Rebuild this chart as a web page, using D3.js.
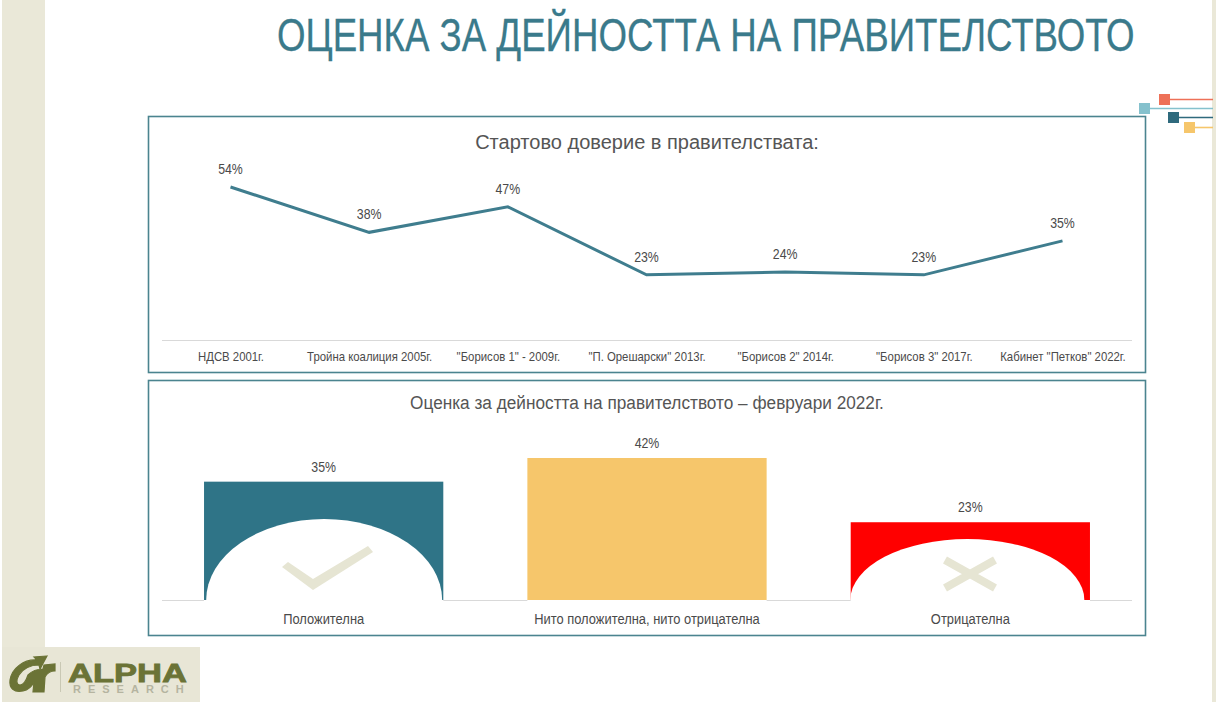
<!DOCTYPE html>
<html>
<head>
<meta charset="utf-8">
<script src="https://d3js.org/d3.v7.min.js"></script>
<style>
  html, body { margin: 0; padding: 0; background: #fff; }
  svg { display: block; }
  text { font-family: "Liberation Sans", Arial, sans-serif; }
</style>
</head>
<body>
<div id="my_dataviz"></div>
<script>

// chart data
var lineCategories = ["НДСВ 2001г.", "Тройна коалиция 2005г.", "\"Борисов 1\" - 2009г.", "\"П. Орешарски\" 2013г.", "\"Борисов 2\" 2014г.", "\"Борисов 3\" 2017г.", "Кабинет \"Петков\" 2022г."];
var lineValues = [54, 38, 47, 23, 24, 23, 35];
var barCategories = ["Положителна", "Нито положителна, нито отрицателна", "Отрицателна"];
var barValues = [35, 42, 23];
var barColors = ["#2f7487", "#f6c66b", "#ff0000"];

var title = "ОЦЕНКА ЗА ДЕЙНОСТТА НА ПРАВИТЕЛСТВОТО";
var lineTitle = "Стартово доверие в правителствата:";
var barTitle = "Оценка за дейността на правителството – февруари 2022г.";

var beige = "#eae8d8", textGrey = "#4a4a4a", panelStroke = "#4b848f", axisGrey = "#d9d9d9";

var svg = d3.select("#my_dataviz").append("svg")
  .attr("width", 1216)
  .attr("height", 702);

// slide background strips
svg.append("rect").attr("x", 2).attr("y", 0).attr("width", 43).attr("height", 648).attr("fill", beige);
svg.append("rect").attr("x", 1212).attr("y", 0).attr("width", 4).attr("height", 702).attr("fill", beige);

// squeeze a text horizontally until it is as wide as the original
function fitText(sel, x, y, width) {
  var natural = sel.node().getComputedTextLength();
  sel.attr("transform", "translate(" + x + "," + y + ") scale(" + (width / natural) + ",1)");
}

// slide title
var titleText = svg.append("text")
  .attr("font-size", 46)
  .attr("fill", "#3a7a8b")
  .attr("stroke", "#3a7a8b").attr("stroke-width", 0.3)
  .text(title);
fitText(titleText, 277, 51, 858);

// little squares at top right
var squares = [
  {x: 1159, y: 94, c: "#ee7158"},
  {x: 1139, y: 103, c: "#85c1cd"},
  {x: 1168, y: 112, c: "#2f6a7d"},
  {x: 1184, y: 122, c: "#f6c66b"}
];
squares.forEach(function(s) {
  svg.append("line").attr("x1", s.x + 5).attr("x2", 1213).attr("y1", s.y + 5.5).attr("y2", s.y + 5.5)
    .attr("stroke", s.c).attr("stroke-width", 1.6);
  svg.append("rect").attr("x", s.x).attr("y", s.y).attr("width", 11).attr("height", 11).attr("fill", s.c);
});

// panels
svg.append("rect").attr("x", 148.5).attr("y", 116.5).attr("width", 997).attr("height", 256)
  .attr("fill", "#fff").attr("stroke", panelStroke).attr("stroke-width", 1.6);
svg.append("rect").attr("x", 148.5).attr("y", 380.5).attr("width", 997).attr("height", 255)
  .attr("fill", "#fff").attr("stroke", panelStroke).attr("stroke-width", 1.6);

// --- line chart
var x1 = d3.scalePoint()
  .domain(lineCategories)
  .range([230.5, 1062.5]);
var y1 = d3.scaleLinear()
  .domain([0, 54])
  .range([340, 187]);

var lineTitleText = svg.append("text")
  .attr("text-anchor", "middle")
  .attr("font-size", 21)
  .attr("fill", "#555")
  .text(lineTitle);
fitText(lineTitleText, 647, 149, 344);

var xAxis1 = svg.append("g")
  .attr("transform", "translate(0,340)")
  .call(d3.axisBottom(x1).tickSize(0).tickPadding(12.5));
xAxis1.select(".domain").remove();
xAxis1.selectAll("text")
  .attr("font-size", 12.5)
  .attr("fill", textGrey)
  .attr("transform", "scale(0.91,1)")
  .style("font-family", "Liberation Sans");
svg.append("line").attr("x1", 162).attr("x2", 1132).attr("y1", 340.5).attr("y2", 340.5)
  .attr("stroke", axisGrey).attr("stroke-width", 1);

svg.append("path")
  .datum(lineValues)
  .attr("fill", "none")
  .attr("stroke", "#3f7d8e")
  .attr("stroke-width", 3)
  .attr("d", d3.line()
    .x(function(d, i) { return x1(lineCategories[i]); })
    .y(function(d) { return y1(d); }));

svg.selectAll(".linelabel")
  .data(lineValues)
  .enter()
  .append("text")
    .attr("class", "linelabel")
    .attr("transform", function(d, i) {
      return "translate(" + x1(lineCategories[i]) + "," + (y1(d) - 13) + ") scale(0.85,1)";
    })
    .attr("text-anchor", "middle")
    .attr("font-size", 14.5)
    .attr("fill", textGrey)
    .text(function(d) { return d + "%"; });

// --- bar chart
var x2 = d3.scaleBand()
  .domain(barCategories)
  .range([162, 1132])
  .paddingInner(0.26)
  .paddingOuter(0.13);
var y2 = d3.scaleLinear()
  .domain([0, 42])
  .range([600, 458]);

var barTitleText = svg.append("text")
  .attr("text-anchor", "middle")
  .attr("font-size", 19)
  .attr("fill", "#555")
  .text(barTitle);
fitText(barTitleText, 647, 409, 474);

svg.selectAll(".bar")
  .data(barValues)
  .enter()
  .append("rect")
    .attr("class", "bar")
    .attr("x", function(d, i) { return x2(barCategories[i]); })
    .attr("y", function(d) { return y2(d); })
    .attr("width", x2.bandwidth())
    .attr("height", function(d) { return 600 - y2(d); })
    .attr("fill", function(d, i) { return barColors[i]; });

// white arches cut into the first and last bar
var clip = svg.append("defs").append("clipPath").attr("id", "above-axis");
clip.append("rect").attr("x", 0).attr("y", 0).attr("width", 1216).attr("height", 600);
var arches = svg.append("g").attr("clip-path", "url(#above-axis)");
arches.append("ellipse")
  .attr("cx", x2(barCategories[0]) + x2.bandwidth() / 2 + 0.5).attr("cy", 600)
  .attr("rx", 118).attr("ry", 81).attr("fill", "#fff");
arches.append("ellipse")
  .attr("cx", x2(barCategories[2]) + x2.bandwidth() / 2 - 3).attr("cy", 600)
  .attr("rx", 117).attr("ry", 61).attr("fill", "#fff");

// tick and cross inside the arches
svg.append("path")
  .attr("d", "M282,567L288,562L313,579L368,546L373,552L313,590Z")
  .attr("fill", "#e6e5d3");
svg.append("path")
  .attr("d", "M945,560L995,588M995,560L945,588")
  .attr("stroke", "#e6e5d3").attr("stroke-width", 8).attr("fill", "none");

svg.append("line").attr("x1", 162).attr("x2", 1132).attr("y1", 600.5).attr("y2", 600.5)
  .attr("stroke", axisGrey).attr("stroke-width", 1);
// arch edges hide the axis under the bars
barValues.forEach(function(d, i) {
  svg.append("line")
    .attr("x1", x2(barCategories[i])).attr("x2", x2(barCategories[i]) + x2.bandwidth())
    .attr("y1", 600.5).attr("y2", 600.5)
    .attr("stroke", "#fff").attr("stroke-width", 1);
});

var xAxis2 = svg.append("g")
  .attr("transform", "translate(0,600)")
  .call(d3.axisBottom(x2).tickSize(0).tickPadding(14));
xAxis2.select(".domain").remove();
xAxis2.selectAll("text")
  .attr("font-size", 14.5)
  .attr("fill", textGrey)
  .attr("transform", "scale(0.89,1)")
  .style("font-family", "Liberation Sans");

svg.selectAll(".barlabel")
  .data(barValues)
  .enter()
  .append("text")
    .attr("class", "barlabel")
    .attr("transform", function(d, i) {
      return "translate(" + (x2(barCategories[i]) + x2.bandwidth() / 2) + "," + (y2(d) - 10) + ") scale(0.85,1)";
    })
    .attr("text-anchor", "middle")
    .attr("font-size", 14.5)
    .attr("fill", textGrey)
    .text(function(d) { return d + "%"; });

// --- logo
svg.append("rect").attr("x", 2).attr("y", 647).attr("width", 198).attr("height", 55).attr("fill", "#e8e6d6");
svg.append("path")
  .attr("fill", "#6b7336").attr("stroke", "#6b7336").attr("stroke-width", 1.2)
  .attr("d", "M47,656L34,657L37,660C24,659 12,668 10,680C9,688 14,693 23,691C28,690 32,686 34,682L33,692L44,692L45,677C47,673 50,671 55,671L55,664L44,665L43,669C38,669 32,671 28,675C26,681 24,685 20,685C16,685 16,680 19,675C23,669 30,665 39,665L40,669Z");
svg.append("rect").attr("x", 60).attr("y", 662).attr("width", 1).attr("height", 30).attr("fill", "#c9c8b4");
var alphaText = svg.append("text")
  .attr("font-size", 26).attr("font-weight", "bold")
  .attr("fill", "#6b7336")
  .attr("stroke", "#6b7336").attr("stroke-width", 0.8)
  .text("ALPHA");
fitText(alphaText, 68, 682, 119);
svg.append("text")
  .attr("x", 73).attr("y", 693)
  .attr("font-size", 11).attr("font-weight", "bold")
  .attr("fill", "#b5b4a0")
  .attr("letter-spacing", 7)
  .text("RESEARCH");

</script>
</body>
</html>
